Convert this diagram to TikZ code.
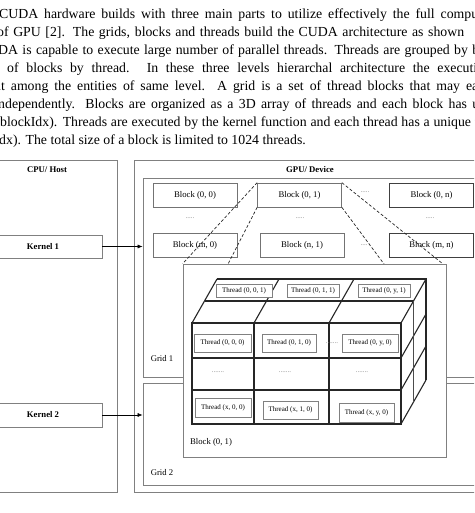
\documentclass[tikz,border=0pt]{standalone}
\usepackage{fontspec}
\setmainfont{Liberation Serif}
\usetikzlibrary{arrows.meta}

\begin{document}
\begin{tikzpicture}[x=1pt,y=-1pt,
    para/.style={anchor=base west,inner sep=0pt,font=\fontsize{13.8}{16}\selectfont,text=black},
    frame/.style={draw=black!50,line width=0.7pt,inner sep=0pt},
    title/.style={font=\fontsize{8.7}{10}\selectfont\bfseries,inner sep=0pt},
    blk/.style={draw=black!55,line width=0.7pt,fill=white,minimum width=84pt,minimum height=24pt,inner sep=0pt,font=\fontsize{8.7}{10}\selectfont},
    thr/.style={draw=black!50,line width=0.6pt,fill=white,minimum width=55pt,minimum height=17pt,inner sep=0pt,font=\fontsize{7}{8}\selectfont},
    lbl/.style={font=\fontsize{8.7}{10}\selectfont,inner sep=0pt},
    more/.style={font=\fontsize{7}{8}\selectfont,text=black!50,inner sep=0pt},
    zoomln/.style={densely dashed,line width=0.7pt,black!85},
    cube/.style={line width=1.1pt,black!85},
    arr/.style={-{Latex[length=5pt,width=4pt]},line width=0.6pt}]
  \useasboundingbox (0,0) rectangle (474,513);
  \clip (0,0) rectangle (474,513);

  % text above the figure
  \node[para] (L1) at (-1,19) {\makebox[479pt][s]{CUDA hardware builds with three main parts to utilize effectively the full compu}};
  \node[para] (L2) at (-3,36.9) {\makebox[467pt][s]{of GPU [2]. The grids, blocks and threads build the CUDA architecture as shown}};
  \node[para] (L3) at (-2,54.8) {\makebox[481pt][s]{DA is capable to execute large number of parallel threads. Threads are grouped by b}};
  \node[para] (L4) at (7,72.7) {\makebox[470pt][s]{of blocks by thread. In these three levels hierarchal architecture the executi}};
  \node[para] (L5) at (-6,90.6) {\makebox[484pt][s]{ut among the entities of same level. A grid is a set of thread blocks that may ea}};
  \node[para] (L6) at (-2,108.5) {\makebox[481pt][s]{ndependently. Blocks are organized as a 3D array of threads and each block has u}};
  \node[para] (L7) at (-4.6,126.4) {\makebox[483pt][s]{(blockIdx). Threads are executed by the kernel function and each thread has a unique t}};
  \node[para] (L8) at (-1,144.3) {dx). The total size of a block is limited to 1024 threads.};

  % host side
  \node[frame,minimum width=137pt,minimum height=332pt] (CPU) at (48.5,326) {};
  \node[title] (CPUt) at (47,170) {CPU/ Host};
  \node[frame,fill=white,minimum width=118pt,minimum height=23pt,font=\fontsize{8.7}{10}\selectfont\bfseries] (K1) at (43,246.5) {Kernel 1};
  \node[frame,fill=white,minimum width=118pt,minimum height=24pt,font=\fontsize{8.7}{10}\selectfont\bfseries] (K2) at (43,415) {Kernel 2};

  % device side
  \node[frame,minimum width=356pt,minimum height=332pt] (GPU) at (312,326) {};
  \node[title] (GPUt) at (310,170) {GPU/ Device};
  \node[frame,minimum width=342pt,minimum height=199pt] (G1) at (314,277.5) {};
  \node[frame,minimum width=342pt,minimum height=102pt] (G2) at (314,434) {};
  \node[lbl] (G1t) at (162,359) {Grid 1};
  \node[lbl] (G2t) at (162,473) {Grid 2};

  \draw[arr] (K1.east) -- (K1.east -| G1.west);
  \draw[arr] (K2.east) -- (K2.east -| G2.west);

  % blocks of grid 1
  \node[blk] (B00) at (195,195) {Block (0, 0)};
  \node[blk] (B01) at (299.5,195) {Block (0, 1)};
  \node[blk,draw=black!75] (B0n) at (431.5,195) {Block (0, n)};
  \node[blk] (Bm0) at (195,245) {Block (m, 0)};
  \node[blk] (Bn1) at (302,245) {Block (n, 1)};
  \node[blk,draw=black!75] (Bmn) at (431.5,245) {Block (m, n)};
  \node[more] (d1) at (365,192) {.....};
  \node[more] (d2) at (190,218) {.....};
  \node[more] (d3) at (300,218) {.....};
  \node[more] (d4) at (430,218) {.....};
  \node[more] (d5) at (364,245) {....};

  % block (0, 1) in detail
  \node[frame,fill=white,minimum width=263pt,minimum height=193pt] (BX) at (314.5,360.5) {};
  \node[lbl] (BXt) at (211,442) {Block (0, 1)};
  \coordinate (zb) at (228,264);
  \coordinate (zd) at (384,264);
  \coordinate (zc) at (443,264);
  \draw[zoomln] (B01.north west) -- (BX.north west);
  \draw[zoomln] (B01.south west) -- (zb);
  \draw[zoomln] (B01.south east) -- (zd);
  \draw[zoomln] (B01.north east) -- (zc);

  % threads as a 3D array
  \draw[cube] (192,323) rectangle (401,424);
  \foreach \x in {254,329} \draw[cube] (\x,323) -- (\x,424);
  \foreach \y in {358,390} \draw[cube] (192,\y) -- (401,\y);
  \foreach \x in {192,254,329,401} \draw[cube] (\x,323) -- ++(25,-44);
  \foreach \y in {358,390,424} \draw[cube] (401,\y) -- ++(25,-44);
  \draw[cube] (217,279) -- (426,279) -- (426,380);
  \draw[cube] (204.5,301) -- (413.5,301);
  \draw[line width=0.6pt,black!70] (413.5,301) -- (413.5,402);

  \node[thr,minimum width=56pt,minimum height=13pt] (T001) at (244,290.5) {Thread (0, 0, 1)};
  \node[thr,minimum width=52pt,minimum height=13pt] (T011) at (313,290.5) {Thread (0, 1, 1)};
  \node[thr,minimum width=52pt,minimum height=13pt] (T0y1) at (384,290.5) {Thread (0, y, 1)};
  \node[thr,minimum width=57pt,minimum height=18pt] (T000) at (222.5,343) {Thread (0, 0, 0)};
  \node[thr,minimum width=54pt,minimum height=18pt] (T010) at (289,343) {Thread (0, 1, 0)};
  \node[thr,minimum width=56pt,minimum height=18pt] (T0y0) at (370,343) {Thread (0, y, 0)};
  \node[more] (d6) at (332,343) {.......};
  \node[more] (d7) at (218,372) {.......};
  \node[more] (d8) at (285,372) {.......};
  \node[more] (d9) at (362,372) {.......};
  \node[thr,minimum width=56pt,minimum height=19pt] (Tx00) at (223,407.5) {Thread (x, 0, 0)};
  \node[thr,minimum width=55pt,minimum height=18pt] (Tx10) at (290.5,410) {Thread (x, 1, 0)};
  \node[thr,minimum width=55pt,minimum height=19pt] (Txy0) at (366.5,412.5) {Thread (x, y, 0)};
\end{tikzpicture}
\end{document}
